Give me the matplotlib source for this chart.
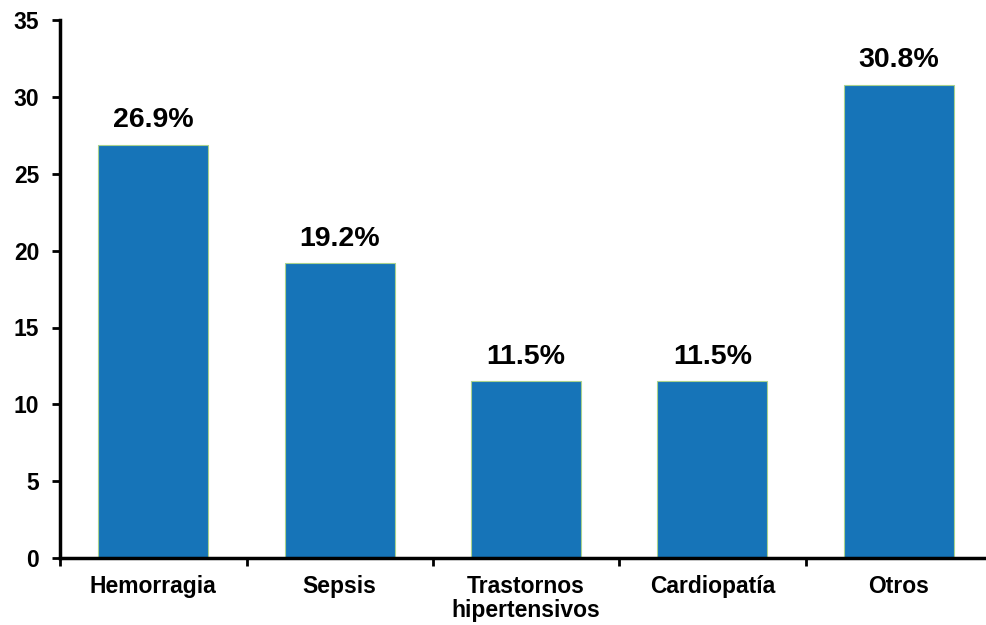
import matplotlib
matplotlib.use("Agg")
import matplotlib.pyplot as plt
import numpy as np

categories = ["Hemorragia", "Sepsis", "Trastornos\nhipertensivos", "Cardiopatía", "Otros"]
values = [26.9, 19.2, 11.5, 11.5, 30.8]
labels = ["26.9%", "19.2%", "11.5%", "11.5%", "30.8%"]
yticks = [0, 5, 10, 15, 20, 25, 30, 35]

plt.rcParams['font.family'] = ['Liberation Sans', 'DejaVu Sans']
plt.rcParams['font.weight'] = 'bold'

fig = plt.figure(figsize=(9.86, 6.25), dpi=100)
ax = fig.add_axes([0.061, 0.107, 0.945, 0.861])

x = np.arange(len(categories))
bars = ax.bar(x, values, width=0.59, color='#1674B8', edgecolor='#A9D18E', linewidth=0.8)

for xi, v, lab in zip(x, values, labels):
    ax.annotate(lab, (xi, v), xytext=(0, 12.5), textcoords='offset points',
                ha='center', va='baseline', fontsize=20.5, fontweight='bold')

ax.set_xlim(-0.5, 4.5)
ax.set_ylim(0, 35)
ax.set_yticks(yticks)
ax.set_yticklabels([str(t) for t in yticks], fontsize=16.5, fontweight='bold')
ax.set_xticks(x)
ax.set_xticklabels(categories, fontsize=16.5, fontweight='bold', linespacing=1.05)
ax.set_xticks(np.arange(-0.5, 5.0, 1.0), minor=True)
ax.tick_params(axis='x', which='major', length=0, pad=12)
ax.tick_params(axis='x', which='minor', length=5.5, width=2, direction='out')
ax.tick_params(axis='y', length=6, width=2, pad=9)

for s in ['top', 'right']:
    ax.spines[s].set_visible(False)
for s in ['left', 'bottom']:
    ax.spines[s].set_linewidth(2.5)

fig.savefig("out.png", dpi=100)
